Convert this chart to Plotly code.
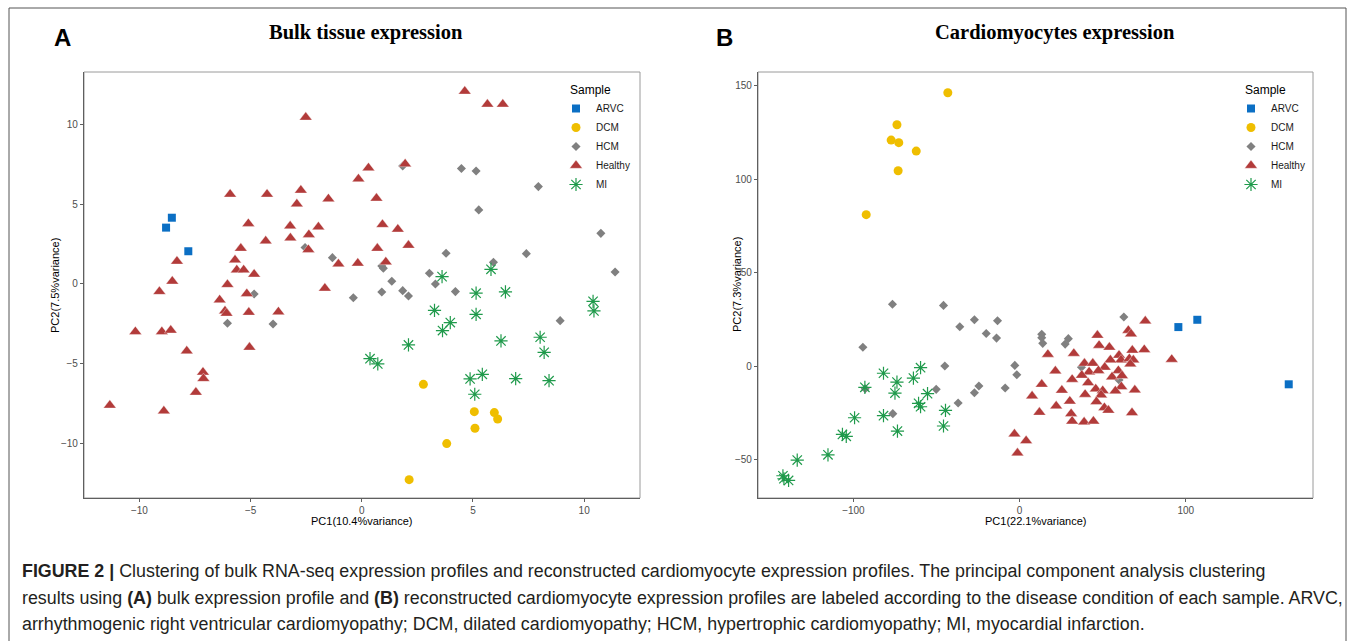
import plotly.graph_objects as go

W, H = 1355, 641

# ---------------- data ----------------
groups = ["ARVC", "DCM", "HCM", "Healthy", "MI"]

# Panel A: bulk tissue expression (PC1, PC2)
bulk_arvc_x = [-8.54, -8.80, -7.80]
bulk_arvc_y = [4.15, 3.53, 2.05]
bulk_dcm_x = [2.77, 5.06, 5.96, 6.11, 5.09, 3.82, 2.13]
bulk_dcm_y = [-6.29, -8.00, -8.06, -8.46, -9.04, -10.00, -12.26]
bulk_hcm_x = [1.84, -2.55, -1.32, 0.90, 0.97, 1.35, 0.90, 1.84, 2.10, -0.38, -4.84, -6.04, -3.99,
              4.48, 5.14, 7.94, 5.26, 10.75, 3.79, 7.40, 5.92, 11.39, 3.04, 3.31, 4.21, 8.92]
bulk_hcm_y = [7.39, 2.28, 1.65, 1.13, 0.98, 0.17, -0.50, -0.42, -0.75, -0.86, -0.63, -2.46, -2.51,
              7.23, 7.08, 6.10, 4.64, 3.17, 1.92, 1.90, 1.36, 0.75, 0.67, 0.00, -0.48, -2.30]
bulk_healthy_x = [-2.52, 1.95, 0.30, -0.15, -5.92, -4.26, -2.74, -2.92, -1.50, 0.66,
                  -5.10, -3.22, -1.95, -2.38, 0.93, 1.62, 2.10, -4.32, -3.21, -5.44,
                  -2.40, 0.70, -8.31, -5.70, -5.62, -5.31, -4.84, -1.05, -0.18, 1.08,
                  -8.52, -9.10, -6.04, -1.66, -5.17, -6.39, -6.15, -6.08, -5.08, -3.75,
                  -10.18, -8.99, -8.59, -7.87, -5.05, -7.14, -7.12, -7.46, -11.33, -8.90,
                  4.63, 5.65, 6.34]
bulk_healthy_y = [10.44, 7.52, 7.27, 6.58, 5.62, 5.62, 5.87, 5.01, 5.33, 5.37,
                  3.78, 3.63, 3.57, 3.09, 3.72, 3.43, 2.42, 2.69, 2.88, 2.23,
                  2.15, 2.23, 1.42, 1.50, 0.88, 0.88, 0.61, 1.25, 1.30, 1.38,
                  0.17, -0.48, -0.04, -0.27, -0.61, -1.00, -1.69, -1.84, -1.78, -1.75,
                  -2.99, -2.99, -2.90, -4.20, -3.97, -5.53, -5.93, -6.79, -7.60, -7.96,
                  12.07, 11.26, 11.26]
bulk_mi_x = [0.37, 0.72, 2.10, 3.61, 5.81, 5.14, 6.46, 10.40, 10.44, 3.27, 5.14,
             3.98, 3.63, 6.26, 8.02, 8.20, 4.87, 5.42, 6.92, 8.42, 5.08]
bulk_mi_y = [-4.68, -5.01, -3.82, 0.46, 0.92, -0.58, -0.50, -1.09, -1.69, -1.65, -1.90,
             -2.42, -2.92, -3.57, -3.34, -4.28, -5.95, -5.66, -5.93, -6.06, -6.91]

# Panel B: cardiomyocytes expression (PC1, PC2)
cm_arvc_x = [95.5, 106.9, 161.9]
cm_arvc_y = [21.0, 24.9, -9.6]
cm_dcm_x = [-43.2, -73.8, -77.3, -72.7, -62.2, -73.1, -92.3]
cm_dcm_y = [146.3, 129.2, 121.0, 119.6, 115.1, 104.6, 81.1]
cm_hcm_x = [-76.5, -45.8, -94.3, -36.0, -27.2, -20.1, -13.3, -13.9, 13.3, 13.3, 13.9, -45.0, -2.9,
            -1.7, -8.7, -24.5, -27.2, -37.0, -50.2, -92.9, -76.3, 62.7, 29.3, 27.4, 37.2, 59.8]
cm_hcm_y = [33.2, 32.6, 10.2, 21.2, 24.9, 17.6, 24.4, 15.1, 17.1, 15.3, 12.3, 0.2, 0.5,
            -4.5, -11.6, -10.5, -14.1, -19.6, -12.3, -12.0, -25.3, 26.4, 14.8, 11.9, -0.5, -7.3]
cm_healthy_x = [17.0, 21.5, 13.3, 7.5, 11.9, 22.0, -3.1, 3.9, -1.3,
                75.6, 65.4, 67.0, 46.8, 47.8, 54.0, 32.6, 75.0, 67.8, 59.8, 61.0, 54.6, 66.0, 68.4,
                66.6, 91.5, 39.0, 44.0, 51.2, 41.8, 47.4, 59.4, 37.4, 55.6, 61.6, 31.6, 41.2, 61.2,
                25.4, 45.8, 50.0, 57.6, 69.3, 39.4, 49.0, 30.2, 46.2, 51.0, 53.4, 67.6, 31.0, 31.6,
                38.8, 44.4]
cm_healthy_y = [6.4, -2.5, -9.6, -15.9, -24.6, -21.2, -36.2, -39.8, -46.4,
                24.2, 19.2, 17.3, 16.6, 11.2, 10.2, 6.9, 8.9, 8.6, 5.9, 3.4, 3.4, 4.1, 3.4,
                1.2, 3.7, 1.6, 1.6, -0.5, -3.0, -2.3, -2.3, -4.8, -5.7, -5.0, -7.0, -8.8, -10.9,
                -12.8, -12.1, -13.0, -13.2, -12.7, -15.0, -15.3, -18.6, -18.9, -22.1, -23.5, -24.8, -25.3, -29.3,
                -29.8, -29.3]
cm_mi_x = [-93.1, -81.9, -73.8, -63.9, -59.6, -75.0, -55.4, -60.8, -59.6, -44.6, -81.9,
           -99.3, -45.8, -73.5, -106.6, -104.3, -115.3, -133.8, -142.4, -141.8, -139.0]
cm_mi_y = [-11.2, -3.7, -8.4, -6.3, -0.7, -14.3, -14.6, -19.8, -21.6, -23.5, -26.4,
           -27.5, -31.9, -34.6, -36.4, -37.4, -47.3, -50.1, -58.5, -60.1, -61.0]

bulk_ticks_x = [-10, -5, 0, 5, 10]
bulk_ticks_y = [-10, -5, 0, 5, 10]
cm_ticks_x = [-100, 0, 100]
cm_ticks_y = [-50, 0, 50, 100, 150]

# ---------------- styles ----------------
colors = {"ARVC": "#0b6fc4", "DCM": "#efbe00", "HCM": "#808080",
          "Healthy": "#b23b3a", "MI": "#1f9a4b"}
symbols = {"ARVC": "square", "DCM": "circle", "HCM": "diamond",
           "Healthy": "triangle-up", "MI": "asterisk-open"}
sizes = {"ARVC": 8, "DCM": 9, "HCM": 7, "Healthy": 11, "MI": 11}

SANS = "Liberation Sans, Arial, sans-serif"
SERIF = "Liberation Serif, Times New Roman, serif"


def fmt(v):
    return ("\u2212" + str(abs(v))) if v < 0 else str(v)


def px(x):
    return x / W


def py(y):
    return 1 - y / H


fig = go.Figure()

panelA = {"ARVC": (bulk_arvc_x, bulk_arvc_y), "DCM": (bulk_dcm_x, bulk_dcm_y),
          "HCM": (bulk_hcm_x, bulk_hcm_y), "Healthy": (bulk_healthy_x, bulk_healthy_y),
          "MI": (bulk_mi_x, bulk_mi_y)}
panelB = {"ARVC": (cm_arvc_x, cm_arvc_y), "DCM": (cm_dcm_x, cm_dcm_y),
          "HCM": (cm_hcm_x, cm_hcm_y), "Healthy": (cm_healthy_x, cm_healthy_y),
          "MI": (cm_mi_x, cm_mi_y)}


def marker_for(g):
    m = dict(symbol=symbols[g], size=sizes[g], color=colors[g])
    if g == "MI":
        m["line"] = dict(color=colors[g], width=1.2)
    elif g == "Healthy":
        m["line"] = dict(color="rgba(255,255,255,0.6)", width=0.6)
    else:
        m["line"] = dict(width=0)
    return m


for g in groups:
    xs, ys = panelA[g]
    fig.add_trace(go.Scatter(x=xs, y=ys, mode="markers", name=g, marker=marker_for(g),
                             xaxis="x", yaxis="y", legend="legend"))
for g in groups:
    xs, ys = panelB[g]
    fig.add_trace(go.Scatter(x=xs, y=ys, mode="markers", name=g, marker=marker_for(g),
                             xaxis="x2", yaxis="y2", legend="legend2"))

axis_common = dict(showgrid=False, zeroline=False, showline=True, linecolor="#5f5f5f",
                   linewidth=1.2, ticks="outside", ticklen=3, tickcolor="#5f5f5f",
                   tickfont=dict(family=SANS, size=10, color="#4d4d4d"), mirror=False)

A_x0, A_x1 = 84, 640
B_x0, B_x1 = 758, 1313
P_top, P_bot = 72, 498

fig.update_layout(
    width=W, height=H, margin=dict(l=0, r=0, t=0, b=0),
    paper_bgcolor="white", plot_bgcolor="white",
    xaxis=dict(domain=[px(A_x0), px(A_x1)], range=[-12.49, 12.51], anchor="y",
               tickvals=bulk_ticks_x, ticktext=[fmt(v) for v in bulk_ticks_x], **axis_common),
    yaxis=dict(domain=[py(P_bot), py(P_top)], range=[-13.41, 13.28], anchor="x",
               tickvals=bulk_ticks_y, ticktext=[fmt(v) for v in bulk_ticks_y], **axis_common),
    xaxis2=dict(domain=[px(B_x0), px(B_x1)], range=[-157.4, 176.5], anchor="y2",
                tickvals=cm_ticks_x, ticktext=[fmt(v) for v in cm_ticks_x], **axis_common),
    yaxis2=dict(domain=[py(P_bot), py(P_top)], range=[-70.4, 157.4], anchor="x2",
                tickvals=cm_ticks_y, ticktext=[fmt(v) for v in cm_ticks_y], **axis_common),
    legend=dict(x=px(556), y=py(94), xanchor="left", yanchor="top", bgcolor="rgba(0,0,0,0)",
                font=dict(family=SANS, size=10, color="#1a1a1a"), tracegroupgap=0,
                itemsizing="trace"),
    legend2=dict(x=px(1231), y=py(94), xanchor="left", yanchor="top", bgcolor="rgba(0,0,0,0)",
                 font=dict(family=SANS, size=10, color="#1a1a1a"), tracegroupgap=0,
                 itemsizing="trace"),
    showlegend=True,
)

shapes = []
# panel boxes (top/right borders)
for xr, yr in (("x domain", "y domain"), ("x2 domain", "y2 domain")):
    shapes.append(dict(type="rect", xref=xr, yref=yr, x0=0, x1=1, y0=0, y1=1,
                       line=dict(color="#9a9a9a", width=1), layer="below"))
# outer figure frame
shapes.append(dict(type="rect", xref="paper", yref="paper", x0=px(9), x1=px(1346),
                   y0=-0.2, y1=py(8), line=dict(color="#555555", width=1), layer="below"))
fig.update_layout(shapes=shapes)

ann = []
# panel letters and titles
ann.append(dict(text="<b>A</b>", x=px(62), y=py(37), font=dict(family=SANS, size=24, color="black")))
ann.append(dict(text="<b>B</b>", x=px(724), y=py(37), font=dict(family=SANS, size=24, color="black")))
ann.append(dict(text="<b>Bulk tissue expression</b>", x=px(366), y=py(33),
                font=dict(family=SERIF, size=20.5, color="black")))
ann.append(dict(text="<b>Cardiomyocytes expression</b>", x=px(1055), y=py(33),
                font=dict(family=SERIF, size=20.5, color="black")))
# axis titles
ann.append(dict(text="PC1(10.4%variance)", x=px(362), y=py(521), font=dict(family=SANS, size=11, color="black")))
ann.append(dict(text="PC1(22.1%variance)", x=px(1036), y=py(521), font=dict(family=SANS, size=11, color="black")))
ann.append(dict(text="PC2(7.5%variance)", x=px(55), y=py(286), textangle=-90,
                font=dict(family=SANS, size=11, color="black")))
ann.append(dict(text="PC2(7.3%variance)", x=px(737), y=py(285), textangle=-90,
                font=dict(family=SANS, size=11, color="black")))
# legend titles
ann.append(dict(text="Sample", x=px(568), y=py(90), xanchor="left",
                font=dict(family=SANS, size=12, color="black")))
ann.append(dict(text="Sample", x=px(1243), y=py(90), xanchor="left",
                font=dict(family=SANS, size=12, color="black")))
# caption
CAP = "Liberation Sans, Arial, sans-serif"
cap_lines = [
    "<b>FIGURE 2 |</b> Clustering of bulk RNA-seq expression profiles and reconstructed cardiomyocyte expression profiles. The principal component analysis clustering",
    "results using <b>(A)</b> bulk expression profile and <b>(B)</b> reconstructed cardiomyocyte expression profiles are labeled according to the disease condition of each sample. ARVC,",
    "arrhythmogenic right ventricular cardiomyopathy; DCM, dilated cardiomyopathy; HCM, hypertrophic cardiomyopathy; MI, myocardial infarction.",
]
for i, line in enumerate(cap_lines):
    ann.append(dict(text=line, x=px(20), y=py(571 + 26.5 * i), xanchor="left",
                    font=dict(family=CAP, size=17.85, color="#231f20")))

for a in ann:
    a.setdefault("xref", "paper")
    a.setdefault("yref", "paper")
    a.setdefault("showarrow", False)
    a.setdefault("xanchor", "center")
    a.setdefault("yanchor", "middle")
fig.update_layout(annotations=ann)

fig.write_html("out.html")
